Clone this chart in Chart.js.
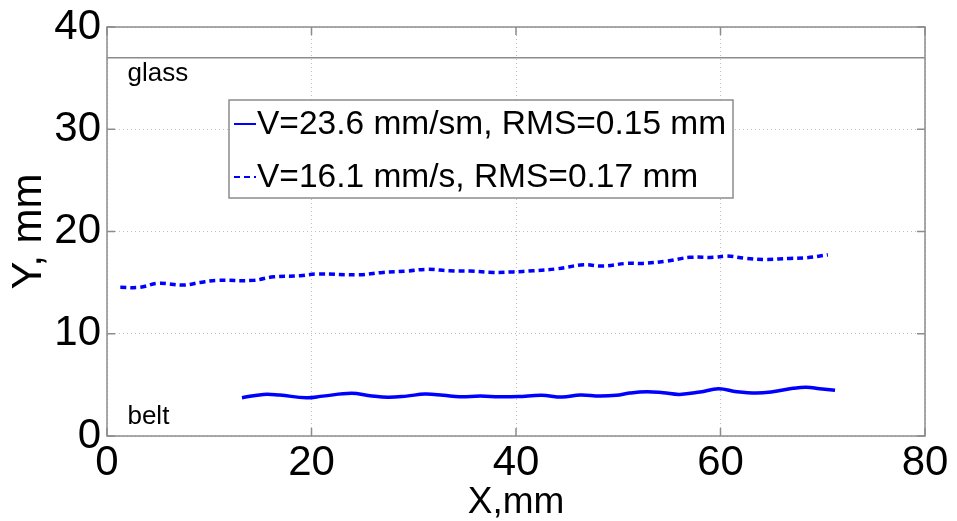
<!DOCTYPE html>
<html>
<head>
<meta charset="utf-8">
<script src="https://cdn.jsdelivr.net/npm/chart.js@4.4.1/dist/chart.umd.min.js"></script>
<style>
  html, body { margin: 0; padding: 0; background: #fff; }
  #wrap { width: 957px; height: 521px; }
</style>
</head>
<body>
<div id="wrap"><canvas id="profileChart"></canvas></div>
<script>
// Fast run (solid line)
const fastX = [13.2, 15.3, 16.9, 19.5, 21.1, 23.9, 25.7, 27.5, 29.3, 31.1, 32.9, 34.5, 36.5, 38.4, 40.2,
  42.5, 44.5, 46.3, 48.2, 49.8, 51.1, 52.8, 54.4, 56.0, 58.0, 59.8, 61.6, 63.5, 65.1, 67.1, 68.4, 69.7, 71.2];
const fastY = [3.74, 4.07, 4.0, 3.74, 3.9, 4.17, 3.94, 3.78, 3.9, 4.1, 3.98, 3.84, 3.9, 3.84, 3.86,
  3.98, 3.81, 4.0, 3.9, 3.98, 4.2, 4.33, 4.23, 4.07, 4.3, 4.62, 4.33, 4.2, 4.33, 4.66, 4.76, 4.62, 4.47];

// Slow run (dashed line)
const slowX = [1.3, 3.2, 5.0, 7.5, 9.1, 10.7, 14.3, 16.3, 18.9, 20.5, 24.7, 27.0, 29.3, 31.3, 33.5, 35.5,
  37.8, 39.7, 41.7, 44.0, 46.6, 48.5, 50.8, 52.4, 54.7, 57.0, 59.3, 60.6, 62.5, 64.5, 66.8, 68.4, 70.5];
const slowY = [14.54, 14.54, 14.93, 14.76, 15.02, 15.22, 15.22, 15.57, 15.67, 15.84, 15.77, 16.0, 16.13, 16.3, 16.16, 16.13,
  16.0, 16.05, 16.16, 16.35, 16.74, 16.62, 16.88, 16.88, 17.1, 17.47, 17.47, 17.6, 17.37, 17.27, 17.37, 17.43, 17.72];

const seriesLabels = ['V=23.6 mm/sm, RMS=0.15 mm', 'V=16.1 mm/s, RMS=0.17 mm'];

// Channel walls
const glassX = [0, 80];
const glassY = [37, 37];
const wallLabels = [
  { text: 'glass', x: 2, y: 34.7 },
  { text: 'belt', x: 2, y: 1.15 }
];

const xTicks = [0, 20, 40, 60, 80];
const yTicks = [0, 10, 20, 30, 40];

const FONT = '"Liberation Sans", Arial, Helvetica, sans-serif';

function toPoints(xs, ys) {
  return xs.map((x, i) => ({ x: x, y: ys[i] }));
}

// box, inward ticks, wall labels and the legend
const decorPlugin = {
  id: 'decor',
  afterDatasetsDraw(chart) {
    const { ctx, chartArea: a, scales } = chart;
    ctx.save();
    ctx.strokeStyle = '#8c8c8c';
    ctx.lineWidth = 1.5;
    ctx.strokeRect(a.left, a.top, a.right - a.left, a.bottom - a.top);

    ctx.beginPath();
    xTicks.forEach(v => {
      const px = scales.x.getPixelForValue(v);
      ctx.moveTo(px, a.bottom); ctx.lineTo(px, a.bottom - 8);
      ctx.moveTo(px, a.top); ctx.lineTo(px, a.top + 8);
    });
    yTicks.forEach(v => {
      const py = scales.y.getPixelForValue(v);
      ctx.moveTo(a.left, py); ctx.lineTo(a.left + 8, py);
      ctx.moveTo(a.right, py); ctx.lineTo(a.right - 8, py);
    });
    ctx.stroke();

    ctx.fillStyle = '#000';
    ctx.font = '26px ' + FONT;
    ctx.textAlign = 'left';
    ctx.textBaseline = 'alphabetic';
    wallLabels.forEach(l => {
      ctx.fillText(l.text, scales.x.getPixelForValue(l.x), scales.y.getPixelForValue(l.y));
    });

    // legend box
    const lx = 229, ly = 100, lw = 504, lh = 98;
    ctx.fillStyle = '#fff';
    ctx.fillRect(lx, ly, lw, lh);
    ctx.strokeStyle = '#8c8c8c';
    ctx.lineWidth = 1.5;
    ctx.strokeRect(lx, ly, lw, lh);
    ctx.font = '33.5px ' + FONT;
    ctx.textBaseline = 'middle';
    chart.data.datasets.slice(0, 2).forEach((ds, i) => {
      const cy = ly + 24 + i * 53;
      ctx.strokeStyle = ds.borderColor;
      ctx.lineWidth = 2;
      ctx.setLineDash(ds.borderDash || []);
      ctx.beginPath();
      ctx.moveTo(lx + 5, cy); ctx.lineTo(lx + 27, cy);
      ctx.stroke();
      ctx.setLineDash([]);
      ctx.fillStyle = '#000';
      ctx.fillText(ds.label, lx + 28, cy + 1);
    });
    ctx.restore();
  }
};

new Chart(document.getElementById('profileChart'), {
  type: 'scatter',
  data: {
    datasets: [
      {
        label: seriesLabels[0],
        data: toPoints(fastX, fastY),
        showLine: true,
        borderColor: '#0000ff',
        borderWidth: 3.5,
        pointRadius: 0,
        tension: 0.4
      },
      {
        label: seriesLabels[1],
        data: toPoints(slowX, slowY),
        showLine: true,
        borderColor: '#0000ff',
        borderWidth: 3.5,
        borderDash: [6, 4],
        pointRadius: 0,
        tension: 0.4
      },
      {
        label: 'glass',
        data: toPoints(glassX, glassY),
        showLine: true,
        borderColor: '#8c8c8c',
        borderWidth: 1.5,
        pointRadius: 0
      }
    ]
  },
  options: {
    responsive: true,
    maintainAspectRatio: false,
    animation: false,
    layout: { padding: { top: 27, right: 32, left: 0, bottom: 0 } },
    plugins: {
      legend: { display: false },
      tooltip: { enabled: false }
    },
    scales: {
      x: {
        type: 'linear',
        min: 0, max: 80,
        afterBuildTicks: s => { s.ticks = xTicks.map(v => ({ value: v })); },
        afterFit: s => { s.height = 85; },
        border: { display: false, dash: [1, 3] },
        grid: { color: '#c0c0c0', drawTicks: false, lineWidth: 1 },
        ticks: { color: '#000', padding: 6, font: { family: FONT, size: 42, lineHeight: 1 } },
        title: { display: true, text: 'X,mm', color: '#000', padding: 0, font: { family: FONT, size: 37, lineHeight: 1 } }
      },
      y: {
        type: 'linear',
        min: 0, max: 40,
        afterBuildTicks: s => { s.ticks = yTicks.map(v => ({ value: v })); },
        afterFit: s => { s.width = 107; },
        border: { display: false, dash: [1, 3] },
        grid: { color: '#c0c0c0', drawTicks: false, lineWidth: 1 },
        ticks: { color: '#000', padding: 6, font: { family: FONT, size: 42, lineHeight: 1 } },
        title: { display: true, text: 'Y, mm', color: '#000', padding: { top: 8, bottom: 0 }, font: { family: FONT, size: 42, lineHeight: 1 } }
      }
    }
  },
  plugins: [decorPlugin]
});
</script>
</body>
</html>
